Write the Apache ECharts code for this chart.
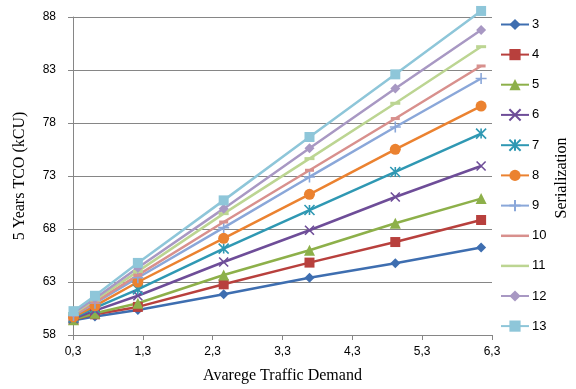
<!DOCTYPE html>
<html><head><meta charset="utf-8">
<script src="https://cdn.jsdelivr.net/npm/echarts@6/dist/echarts.min.js"></script>
<style>html,body{margin:0;padding:0;background:#fff}#c{width:576px;height:389px}</style>
</head><body><div id="c"></div>
<script>
// Data
const xValues = [0.3072, 0.6144, 1.2288, 2.4576, 3.6864, 4.9152, 6.144];
const seriesNames = ['3','4','5','6','7','8','9','10','11','12','13'];
const s3  = [59.40, 59.75, 60.35, 61.84, 63.41, 64.76, 66.25];
const s4  = [59.45, 59.95, 60.65, 62.78, 64.83, 66.77, 68.85];
const s5  = [59.45, 60.05, 61.00, 63.66, 65.99, 68.54, 70.87];
const s6  = [59.55, 60.30, 61.70, 64.89, 67.88, 71.02, 73.94];
const s7  = [59.65, 60.55, 62.30, 66.15, 69.79, 73.38, 77.00];
const s8  = [59.70, 60.75, 63.00, 67.12, 71.27, 75.52, 79.60];
const s9  = [59.85, 61.00, 63.40, 68.13, 72.91, 77.62, 82.20];
const s10 = [59.90, 61.10, 63.65, 68.66, 73.54, 78.42, 83.38];
const s11 = [60.00, 61.30, 64.00, 69.45, 74.64, 79.86, 85.20];
const s12 = [60.10, 61.45, 64.35, 69.92, 75.61, 81.25, 86.77];
const s13 = [60.25, 61.70, 64.80, 70.70, 76.68, 82.59, 88.57];
const allValues = [s3, s4, s5, s6, s7, s8, s9, s10, s11, s12, s13];
const yTicksMin = 58, yTicksMax = 88, yTickStep = 5;
const xTicksMin = 0.3, xTicksMax = 6.3, xTickStep = 1;

const colors = ['#3E6EB0','#B8403D','#8DB04A','#6E4D98','#2F98B3','#EB8230','#8AA7D9','#D8908D','#BCD592','#A898C3','#8EC6D9'];
const xPath = 'path://M0,0L10,10M10,0L0,10';
const starPath = 'path://M0,0L10,10M10,0L0,10M5,0L5,10';
const plusPath = 'path://M0,5L10,5M5,0L5,10';
const flatLine = 'path://M0,0L28,0L28,2.5L0,2.5Z';
const symbols = [
  {s:'diamond', size:10},
  {s:'rect', size:10},
  {s:'triangle', size:11},
  {s:xPath, size:9, stroke:true},
  {s:starPath, size:10, stroke:true},
  {s:'circle', size:11},
  {s:plusPath, size:11, stroke:true},
  {s:'rect', size:[9,3], plainLegend:true},
  {s:'rect', size:[10,3], plainLegend:true},
  {s:'diamond', size:10},
  {s:'rect', size:10}
];

const chart = echarts.init(document.getElementById('c'), null, {renderer:'canvas'});
const series = seriesNames.map((n, i) => ({
  name: n,
  type: 'line',
  data: xValues.map((x, j) => [x, allValues[i][j]]),
  symbol: symbols[i].s,
  symbolSize: symbols[i].size,
  showAllSymbol: true,
  clip: false,
  lineStyle: {color: colors[i], width: 2.5},
  itemStyle: symbols[i].stroke ? {color: colors[i], borderColor: colors[i], borderWidth: 1.6} : {color: colors[i], borderWidth: 0},
  emphasis: {disabled: true},
  animation: false
}));

const legendData = seriesNames.map((n, i) => symbols[i].plainLegend ? {name: n, icon: flatLine} : {name: n});

chart.setOption({
  animation: false,
  grid: {left: 73, right: 84, top: 17, bottom: 53, containLabel: false},
  xAxis: {
    type: 'value', min: xTicksMin, max: xTicksMax, interval: xTickStep,
    name: 'Avarege Traffic Demand', nameLocation: 'middle', nameGap: 33,
    nameTextStyle: {fontFamily: 'Liberation Serif', fontSize: 16, color: '#000'},
    axisLine: {show: true, lineStyle: {color: '#868686', width: 1}},
    axisTick: {show: true, length: 5, lineStyle: {color: '#868686'}},
    axisLabel: {fontFamily: 'Liberation Sans', fontSize: 12, color: '#000', margin: 11,
      formatter: v => v.toFixed(1).replace('.', ',')},
    splitLine: {show: false}
  },
  yAxis: {
    type: 'value', min: yTicksMin, max: yTicksMax, interval: yTickStep,
    name: '5 Years TCO (kCU)', nameLocation: 'middle', nameGap: 45,
    nameTextStyle: {fontFamily: 'Liberation Serif', fontSize: 16, color: '#000'},
    axisLine: {show: true, lineStyle: {color: '#868686', width: 1}},
    axisTick: {show: true, length: 5, lineStyle: {color: '#868686'}},
    axisLabel: {fontFamily: 'Liberation Sans', fontSize: 12, color: '#000', margin: 17},
    splitLine: {show: true, lineStyle: {color: '#868686', width: 1}}
  },
  legend: {
    orient: 'vertical', left: 495, top: 13,
    itemWidth: 28, itemHeight: 14, itemGap: 17.1,
    textStyle: {fontFamily: 'Liberation Sans', fontSize: 13, color: '#000', padding: [0,0,0,-2]},
    data: legendData,
    selectedMode: false
  },
  graphic: [{
    type: 'text', x: 562, y: 178, rotation: Math.PI / 2,
    style: {text: 'Serialization', font: '16px "Liberation Serif"', fill: '#000', align: 'center', verticalAlign: 'middle'}
  }],
  series: series
});
</script></body></html>
